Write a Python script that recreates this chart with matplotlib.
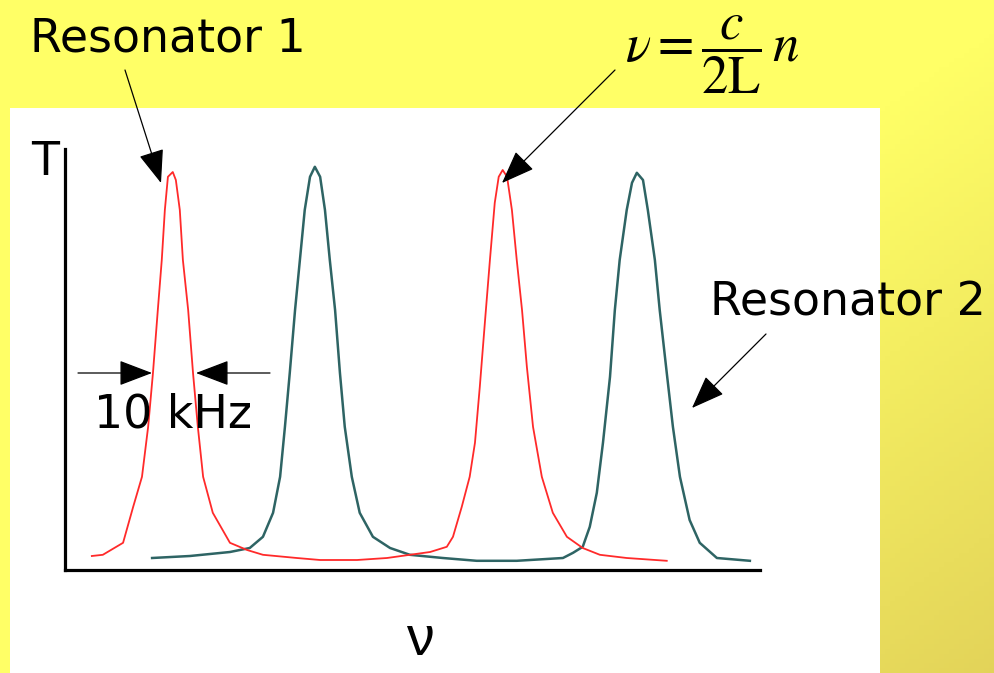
import numpy as np
import matplotlib.pyplot as plt
from matplotlib.patches import Rectangle

plt.rcParams['mathtext.fontset'] = 'stix'

# transmission of the two resonators vs frequency (kHz offset, T normalised)
red_khz = [6.1, 8.6, 13.2, 15.5, 17.5, 18.9, 20.0, 21.1, 22.0, 22.7, 23.4, 24.5, 25.2,
           26.1, 26.8, 28.0, 29.1, 30.2, 31.4, 33.6, 37.5, 41.4, 45.0, 52.7, 58.0, 66.4,
           73.2, 78.4, 83.0, 86.8, 88.2, 90.2, 92.0, 93.2, 94.3, 95.5, 96.6, 97.7, 98.6,
           99.5, 100.5, 101.6, 102.7, 103.9, 105.0, 106.4, 108.4, 110.9, 112.5, 114.1,
           117.7, 121.6, 127.7, 136.8]
red_t = [0.035, 0.038, 0.068, 0.158, 0.233, 0.358, 0.493, 0.650, 0.775, 0.900, 0.983, 0.995,
         0.975, 0.900, 0.775, 0.650, 0.493, 0.358, 0.233, 0.143, 0.068, 0.050, 0.038, 0.030,
         0.025, 0.025, 0.030, 0.038, 0.045, 0.058, 0.083, 0.158, 0.233, 0.318, 0.458, 0.625,
         0.775, 0.918, 0.983, 1.000, 0.983, 0.900, 0.775, 0.650, 0.508, 0.358, 0.233, 0.143,
         0.113, 0.083, 0.055, 0.038, 0.030, 0.023]

teal_khz = [19.8, 28.4, 37.5, 42.0, 45.0, 47.3, 48.9, 50.0, 51.1, 52.3, 53.4, 54.5, 55.7,
            56.8, 58.0, 59.1, 60.2, 61.4, 62.5, 63.6, 65.2, 67.0, 70.0, 73.9, 78.4, 85.9,
            93.6, 102.7, 113.2, 115.5, 117.7, 119.3, 120.9, 122.3, 123.9, 125.0, 126.1,
            127.7, 128.9, 130.0, 131.4, 132.5, 134.1, 135.2, 136.8, 138.2, 139.8, 142.0,
            144.3, 148.2, 155.7]
teal_t = [0.030, 0.035, 0.045, 0.055, 0.083, 0.143, 0.233, 0.358, 0.493, 0.650, 0.775, 0.900,
          0.983, 1.008, 0.983, 0.900, 0.775, 0.650, 0.493, 0.358, 0.233, 0.143, 0.083, 0.055,
          0.038, 0.030, 0.023, 0.023, 0.030, 0.043, 0.058, 0.108, 0.193, 0.318, 0.483, 0.650,
          0.775, 0.900, 0.968, 0.993, 0.975, 0.900, 0.775, 0.650, 0.493, 0.358, 0.233, 0.125,
          0.068, 0.030, 0.023]

W, H = 994, 673
fig = plt.figure(figsize=(W / 100, H / 100), dpi=100)

# slide background: yellow, darkening towards the lower right, with a white panel
bg = fig.add_axes([0, 0, 1, 1])
bg.set_xlim(0, W)
bg.set_ylim(H, 0)
bg.axis('off')
gx, gy = np.meshgrid(np.linspace(0, 1, 200), np.linspace(0, 1, 140))
g = np.clip((gx + gy - 1.05) / 0.95, 0, 1)
top = np.array([1.0, 1.0, 0.40])
bot = np.array([0.89, 0.83, 0.35])
img = top[None, None, :] * (1 - g[..., None]) + bot[None, None, :] * g[..., None]
bg.imshow(img, extent=[0, W, H, 0], aspect='auto', zorder=0)
bg.add_patch(Rectangle((10, 108), 870, 570, facecolor='white', edgecolor='none', zorder=1))

# the plot itself
ax = fig.add_axes([65 / W, (H - 570) / H, 695 / W, 421 / H])
ax.patch.set_alpha(0)
ax.plot(red_khz, red_t, color='#ff2a2a', lw=1.3, zorder=3)
ax.plot(teal_khz, teal_t, color='#2e6464', lw=1.8, zorder=2)
ax.set_xlim(0, 158)
ax.set_ylim(0, 1.0525)
for s in ['top', 'right']:
    ax.spines[s].set_visible(False)
for s in ['left', 'bottom']:
    ax.spines[s].set_linewidth(2.3)
ax.set_xticks([])
ax.set_yticks([])

# labels and arrows on top, in pixel coordinates
ov = fig.add_axes([0, 0, 1, 1], zorder=5)
ov.set_xlim(0, W)
ov.set_ylim(H, 0)
ov.axis('off')
ov.patch.set_alpha(0)

fs = 33
ov.text(30, 51, 'Resonator 1', fontsize=fs, va='baseline', ha='left')
ov.text(710, 316, 'Resonator 2', fontsize=fs, va='baseline', ha='left')
ov.text(94, 428, '10 kHz', fontsize=fs, va='baseline', ha='left', zorder=1)
ov.text(31, 175, 'T', fontsize=fs, va='baseline', ha='left')
ov.text(420, 655, 'ν', fontsize=40, va='baseline', ha='center', family='Liberation Sans')
ov.text(625, 55, r'$\nu = \dfrac{c}{2\mathrm{L}}\,n$', fontsize=38, va='center', ha='left')

arrow = dict(arrowstyle='-|>,head_length=2.1,head_width=0.8', color='black',
             lw=0.9, mutation_scale=10, shrinkA=0, shrinkB=0)
ov.annotate('', xy=(161, 183), xytext=(125, 70), arrowprops=arrow)
ov.annotate('', xy=(502, 183), xytext=(615, 70), arrowprops=arrow)
ov.annotate('', xy=(692, 408), xytext=(766, 334), arrowprops=arrow)
ov.annotate('', xy=(152, 373), xytext=(78, 373), arrowprops=arrow)
ov.annotate('', xy=(196, 373), xytext=(270, 373), arrowprops=arrow)

fig.savefig('out.png', dpi=100)
